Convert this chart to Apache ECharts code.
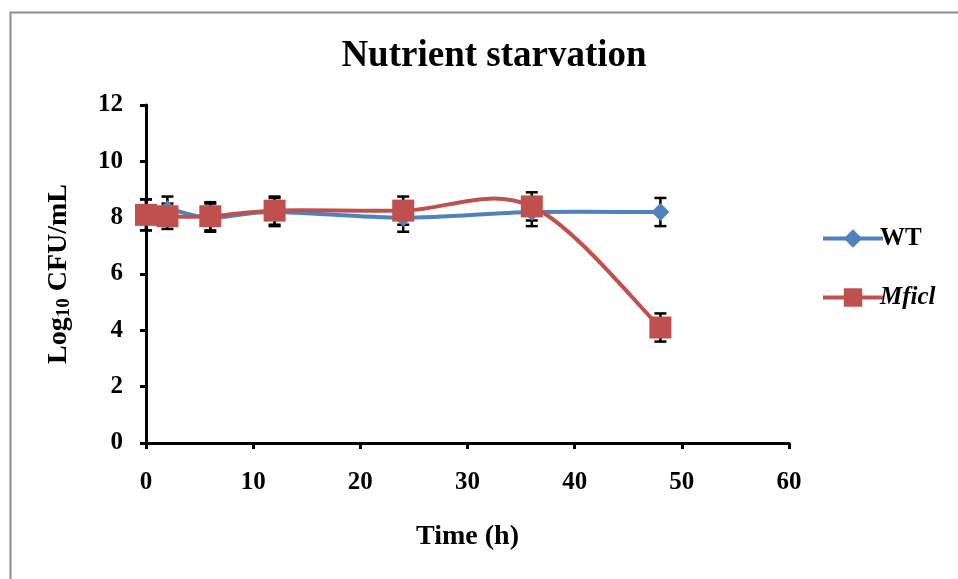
<!DOCTYPE html>
<html><head><meta charset="utf-8">
<script src="https://cdn.jsdelivr.net/npm/echarts@6/dist/echarts.min.js"></script>
<style>html,body{margin:0;padding:0;background:#fff}#c{width:958px;height:579px}</style>
</head><body><div id="c"></div>
<script>
var times = [0, 2, 6, 12, 24, 36, 48];
var wtValues = [8.1, 8.3, 8.0, 8.2, 8.0, 8.2, 8.2];
var wtErrors = [0.55, 0.45, 0.5, 0.5, 0.5, 0.5, 0.5];
var mficlValues = [8.1, 8.05, 8.05, 8.25, 8.25, 8.4, 4.1];
var mficlErrors = [0.55, 0.45, 0.5, 0.5, 0.5, 0.5, 0.5];
var xTicks = [0, 10, 20, 30, 40, 50, 60];
var yTicks = [0, 2, 4, 6, 8, 10, 12];

var serif = '"Liberation Serif","DejaVu Serif",serif';
var BLUE = '#4F81BD', RED = '#C0504D';
function pairs(xs, ys) { return xs.map(function (x, i) { return [x, ys[i]]; }); }
function errData(xs, ys, es) { return xs.map(function (x, i) { return [x, ys[i] - es[i], ys[i] + es[i]]; }); }
function errRender(params, api) {
  var x = api.value(0), lo = api.coord([x, api.value(1)]), hi = api.coord([x, api.value(2)]);
  var hw = 6, st = { stroke: '#000', lineWidth: 2.5 };
  return { type: 'group', children: [
    { type: 'line', shape: { x1: lo[0], y1: lo[1], x2: hi[0], y2: hi[1] }, style: st },
    { type: 'line', shape: { x1: lo[0] - hw, y1: lo[1], x2: lo[0] + hw, y2: lo[1] }, style: st },
    { type: 'line', shape: { x1: hi[0] - hw, y1: hi[1], x2: hi[0] + hw, y2: hi[1] }, style: st }
  ]};
}
// Smoothed (Catmull-Rom style) segment renderer, like a spreadsheet's smoothed line
function curveRender(xs, ys, color) {
  return function (params, api) {
    var i = params.dataIndex, n = xs.length;
    if (i >= n - 1) return null;
    function P(k) { k = Math.max(0, Math.min(n - 1, k)); return api.coord([xs[k], ys[k]]); }
    var p0 = P(i - 1), p1 = P(i), p2 = P(i + 1), p3 = P(i + 2);
    var t = 1 / 6;
    return { type: 'bezierCurve', shape: {
        x1: p1[0], y1: p1[1], x2: p2[0], y2: p2[1],
        cpx1: p1[0] + (p2[0] - p0[0]) * t, cpy1: p1[1] + (p2[1] - p0[1]) * t,
        cpx2: p2[0] - (p3[0] - p1[0]) * t, cpy2: p2[1] - (p3[1] - p1[1]) * t },
      style: { stroke: color, lineWidth: 4, fill: null, lineCap: 'round' } };
  };
}
var chart = echarts.init(document.getElementById('c'));
chart.setOption({
  animation: false,
  backgroundColor: '#fff',
  graphic: [{ type: 'rect', left: 8, top: 10, shape: { width: 1000, height: 1000 },
    style: { fill: 'none', stroke: '#8c8c8c', lineWidth: 2 }, silent: true }],
  title: { text: 'Nutrient starvation', left: 489, textAlign: 'center', top: 33,
    textStyle: { fontFamily: serif, fontWeight: 'bold', fontSize: 37, color: '#000' } },
  legend: {
    orient: 'vertical', left: 816, top: 221, itemGap: 34, itemWidth: 60, itemHeight: 23,
    data: [
      { name: 'WT', textStyle: { fontStyle: 'normal' } },
      { name: 'Mficl', textStyle: { fontStyle: 'italic' } }
    ],
    lineStyle: { width: 4, opacity: 1 },
    textStyle: { fontFamily: serif, fontWeight: 'bold', fontSize: 25, color: '#000', padding: [0, 0, 0, -8] }
  },
  grid: { left: 146, top: 105, right: 169, bottom: 136, containLabel: false },
  xAxis: {
    type: 'value', min: 0, max: 60, interval: 10,
    name: 'Time (h)', nameLocation: 'middle', nameGap: 80,
    nameTextStyle: { fontFamily: serif, fontWeight: 'bold', fontSize: 28, color: '#000' },
    axisLine: { show: true, lineStyle: { color: '#000', width: 3 } },
    axisTick: { show: true, inside: false, length: 6, lineStyle: { color: '#000', width: 3 }, customValues: xTicks },
    axisLabel: { fontFamily: serif, fontWeight: 'bold', fontSize: 25, color: '#000', margin: 27, customValues: xTicks },
    splitLine: { show: false }
  },
  yAxis: {
    type: 'value', min: 0, max: 12, interval: 2,
    name: '{a|Log}{s|10}{a| CFU/mL}', nameLocation: 'middle', nameGap: 72, nameRotate: 90,
    nameTextStyle: { rich: {
      a: { fontFamily: serif, fontWeight: 'bold', fontSize: 28, color: '#000' },
      s: { fontFamily: serif, fontWeight: 'bold', fontSize: 19, color: '#000', verticalAlign: 'bottom', padding: [12, 0, 0, 0] }
    } },
    axisLine: { show: true, lineStyle: { color: '#000', width: 3 } },
    axisTick: { show: true, inside: false, length: 6, lineStyle: { color: '#000', width: 3 }, customValues: yTicks },
    axisLabel: { fontFamily: serif, fontWeight: 'bold', fontSize: 25, color: '#000', margin: 23, customValues: yTicks },
    splitLine: { show: false }
  },
  series: [
    { name: 'WTcurve', type: 'custom', renderItem: curveRender(times, wtValues, BLUE), data: pairs(times, wtValues), z: 2, silent: true },
    { name: 'Mficlcurve', type: 'custom', renderItem: curveRender(times, mficlValues, RED), data: pairs(times, mficlValues), z: 2, silent: true },
    { name: 'WTerr', type: 'custom', renderItem: errRender, data: errData(times, wtValues, wtErrors), z: 3, silent: true },
    { name: 'Mficlerr', type: 'custom', renderItem: errRender, data: errData(times, mficlValues, mficlErrors), z: 3, silent: true },
    { name: 'WT', type: 'line', data: pairs(times, wtValues), symbol: 'diamond', symbolSize: 18,
      itemStyle: { color: BLUE }, lineStyle: { color: BLUE, width: 4, opacity: 0 }, z: 4 },
    { name: 'Mficl', type: 'line', data: pairs(times, mficlValues), symbol: 'rect', symbolSize: 22,
      itemStyle: { color: RED }, lineStyle: { color: RED, width: 4, opacity: 0 }, z: 5 }
  ]
});
</script></body></html>
